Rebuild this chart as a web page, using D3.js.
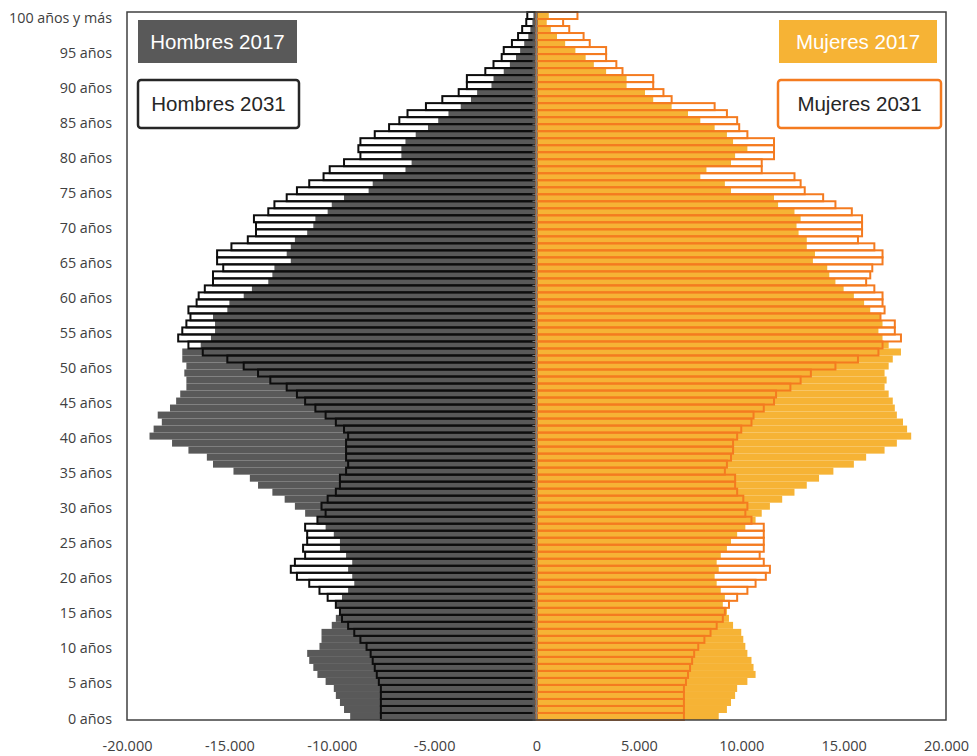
<!DOCTYPE html>
<html>
<head>
<meta charset="utf-8">
<script src="https://cdn.jsdelivr.net/npm/d3@7"></script>
<style>
  body { margin: 0; background: #fff; }
  .axis text { font-family: "Open Sans", sans-serif; fill: #404040; }
  .legend text { font-family: "Liberation Sans", Arial, sans-serif; }
</style>
</head>
<body>
<div id="chart"></div>
<script>
// age groups 0 .. 100 (100 = "100 años y más")
var ages = d3.range(0, 101);
var ageTicks = [0, 5, 10, 15, 20, 25, 30, 35, 40, 45, 50, 55, 60, 65, 70, 75, 80, 85, 90, 95, 100];
var xTicks = [-20000, -15000, -10000, -5000, 0, 5000, 10000, 15000, 20000];

var hombres2017 = [9100, 9400, 9600, 9800, 9900, 10300, 10700, 10900, 11100, 11200,
  10600, 10500, 10500, 10000, 9800, 9600, 9800, 9500, 9200, 8900,
  9000, 9200, 9000, 9300, 9600, 9600, 9900, 10300, 10700, 11300,
  11800, 12300, 12900, 13600, 14000, 14800, 15800, 16100, 17000, 17800,
  18900, 18700, 18300, 18500, 17900, 17600, 17400, 17100, 17100, 17200,
  17100, 17300, 17300, 16400, 15900, 15700, 15700, 15800, 15100, 15000,
  14300, 13900, 13100, 12900, 12800, 12000, 12200, 12000, 11800, 11200,
  10900, 10800, 10200, 10000, 9400, 8200, 8000, 7500, 6400, 6100,
  6600, 6600, 6400, 5900, 5300, 4800, 4300, 3700, 3200, 2900,
  2200, 2100, 1600, 1300, 1000, 800, 600, 400, 300, 200, 150];

var hombres2031 = [7600, 7600, 7600, 7600, 7600, 7700, 7800, 7900, 8000, 8100,
  8300, 8600, 8900, 9200, 9500, 9600, 9800, 10200, 10600, 11100,
  11700, 12000, 11800, 11300, 11400, 11200, 11200, 11300, 10700, 10300,
  10500, 10200, 9800, 9600, 9600, 9300, 9200, 9300, 9300, 9300,
  9200, 9400, 9800, 10300, 10800, 11300, 11700, 12200, 13000, 13600,
  14300, 15100, 16300, 17000, 17500, 17300, 17100, 16900, 17000, 16600,
  16500, 16200, 15800, 15800, 15300, 15600, 15600, 14900, 14100, 13700,
  13700, 13800, 13100, 12800, 12200, 11700, 11100, 10400, 10100, 9400,
  8600, 8700, 8600, 7900, 7200, 6700, 6300, 5400, 4600, 3800,
  3400, 3400, 2500, 2100, 1700, 1600, 1200, 900, 700, 500, 450];

var mujeres2017 = [8900, 9300, 9500, 9700, 9800, 10300, 10700, 10600, 10500, 10300,
  10200, 10100, 10000, 9600, 9400, 9300, 9100, 9200, 9000, 8800,
  8700, 8900, 8800, 9000, 9300, 9500, 9800, 10200, 10700, 11000,
  11400, 12000, 12600, 13200, 13800, 14500, 15500, 16100, 17000, 17600,
  18300, 18100, 17900, 17600, 17500, 17400, 17200, 17000, 17100, 17000,
  17200, 17400, 17800, 17200, 16900, 16700, 16900, 16800, 16300, 16000,
  15500, 15000, 14600, 14300, 14200, 13500, 13600, 13200, 13200, 12800,
  12700, 12900, 12600, 11800, 11600, 9500, 9200, 8000, 8300, 9500,
  9700, 10300, 9600, 9300, 8700, 8000, 7400, 6600, 5700, 5300,
  4400, 4400, 3400, 2800, 2400, 1900, 1400, 1000, 700, 500, 600];

var mujeres2031 = [7200, 7200, 7200, 7200, 7200, 7300, 7400, 7500, 7600, 7700,
  7900, 8200, 8500, 8800, 9100, 9200, 9400, 9800, 10300, 10700,
  11200, 11400, 11100, 10900, 11100, 11100, 11100, 11100, 10500, 10200,
  10300, 10100, 9800, 9700, 9700, 9200, 9300, 9500, 9600, 9600,
  9800, 10000, 10500, 10600, 11100, 11600, 11700, 12400, 12900, 13400,
  14600, 15700, 16700, 16900, 17800, 17500, 17500, 16800, 17000, 16900,
  16900, 16500, 16100, 16300, 16400, 16900, 16900, 16500, 15700, 15900,
  15900, 15900, 15400, 14600, 14000, 13100, 12900, 12600, 11000, 11000,
  11600, 11600, 11600, 10300, 9900, 9800, 9300, 8700, 6600, 6200,
  5700, 5700, 4200, 3900, 3400, 3400, 2600, 2300, 1600, 1300, 2000];

var W = 977, H = 756;
var svg = d3.select('#chart').append('svg')
  .attr('width', W)
  .attr('height', H);

var x = d3.scaleLinear().domain([-20000, 20000]).range([127, 946]);
var y = d3.scaleBand().domain(ages).range([720, 12]).padding(0);
var bw = y.bandwidth();

var colors = {
  h17: '#595959',
  h31: '#0d0d0d',
  m17: '#F6B335',
  m31: '#F47B20'
};

function rows(values) {
  return values.map(function(v, i) { return { age: ages[i], v: v }; });
}

// 2017 filled bars
svg.append('g').selectAll('rect').data(rows(hombres2017)).enter().append('rect')
  .attr('x', function(d) { return x(-d.v); })
  .attr('y', function(d) { return y(d.age); })
  .attr('width', function(d) { return x(0) - x(-d.v); })
  .attr('height', bw)
  .attr('fill', colors.h17);

svg.append('g').selectAll('rect').data(rows(mujeres2017)).enter().append('rect')
  .attr('x', x(0))
  .attr('y', function(d) { return y(d.age); })
  .attr('width', function(d) { return x(d.v) - x(0); })
  .attr('height', bw)
  .attr('fill', colors.m17);

// 2031 outlined bars
svg.append('g').selectAll('rect').data(rows(hombres2031)).enter().append('rect')
  .attr('x', function(d) { return x(-d.v); })
  .attr('y', function(d) { return y(d.age); })
  .attr('width', function(d) { return x(0) - x(-d.v); })
  .attr('height', bw)
  .attr('fill', 'none')
  .attr('stroke', colors.h31)
  .attr('stroke-width', 2);

svg.append('g').selectAll('rect').data(rows(mujeres2031)).enter().append('rect')
  .attr('x', x(0))
  .attr('y', function(d) { return y(d.age); })
  .attr('width', function(d) { return x(d.v) - x(0); })
  .attr('height', bw)
  .attr('fill', 'none')
  .attr('stroke', colors.m31)
  .attr('stroke-width', 2);

// vertical axis at 0 with small ticks
var mid = svg.append('g');
mid.append('line')
  .attr('x1', x(0)).attr('x2', x(0))
  .attr('y1', 12).attr('y2', 720)
  .attr('stroke', '#808080')
  .attr('stroke-width', 1.5);
mid.selectAll('line.tk').data(ages).enter().append('line')
  .attr('class', 'tk')
  .attr('x1', x(0) - 4).attr('x2', x(0))
  .attr('y1', function(d) { return y(d) + bw; })
  .attr('y2', function(d) { return y(d) + bw; })
  .attr('stroke', '#808080')
  .attr('stroke-width', 1);

// frame
svg.append('rect')
  .attr('x', 127).attr('y', 12)
  .attr('width', 946 - 127).attr('height', 720 - 12)
  .attr('fill', 'none')
  .attr('stroke', '#404040')
  .attr('stroke-width', 1.5);

// y labels
var ylab = svg.append('g').attr('class', 'axis');
ylab.selectAll('text').data(ageTicks).enter().append('text')
  .attr('x', 112)
  .attr('y', function(d) { return y(d) + bw / 2 + 2; })
  .attr('dy', '0.35em')
  .attr('text-anchor', 'end')
  .style('font-size', '14.3px')
  .text(function(d) { return d === 100 ? '100 años y más' : d + ' años'; });

// x axis
var fmt = function(d) { return d3.format(',')(d).replace(/,/g, '.').replace('−', '-'); };
var xAxis = svg.append('g')
  .attr('class', 'axis')
  .attr('transform', 'translate(0,720)')
  .call(d3.axisBottom(x).tickValues(xTicks).tickSize(0).tickPadding(21).tickFormat(fmt));
xAxis.select('.domain').remove();
xAxis.selectAll('text').style('font-size', '14.5px').attr('fill', '#404040');

// legend boxes
var legend = svg.append('g').attr('class', 'legend');
var boxes = [
  { label: 'Hombres 2017', x: 138, y: 20, w: 159, h: 43, fill: colors.h17, stroke: 'none', text: '#fff' },
  { label: 'Hombres 2031', x: 138, y: 80, w: 161, h: 48, fill: '#fff', stroke: '#262626', text: '#262626' },
  { label: 'Mujeres 2017', x: 779, y: 20, w: 158, h: 43, fill: colors.m17, stroke: 'none', text: '#fff' },
  { label: 'Mujeres 2031', x: 778, y: 80, w: 163, h: 48, fill: '#fff', stroke: colors.m31, text: '#262626' }
];
boxes.forEach(function(b) {
  legend.append('rect')
    .attr('x', b.x).attr('y', b.y)
    .attr('width', b.w).attr('height', b.h)
    .attr('rx', b.stroke === 'none' ? 0 : 3)
    .attr('fill', b.fill)
    .attr('stroke', b.stroke)
    .attr('stroke-width', 2.5);
  legend.append('text')
    .attr('x', b.x + b.w / 2)
    .attr('y', b.y + b.h / 2)
    .attr('dy', '0.36em')
    .attr('text-anchor', 'middle')
    .attr('fill', b.text)
    .style('font-size', '20.5px')
    .text(b.label);
});
</script>
</body>
</html>
